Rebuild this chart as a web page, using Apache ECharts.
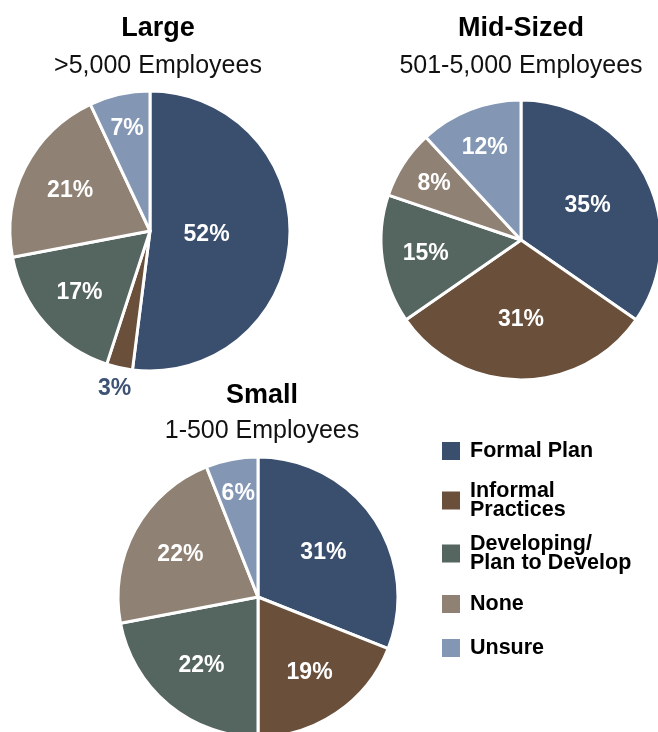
<!DOCTYPE html>
<html><head><meta charset="utf-8">
<script src="https://cdn.jsdelivr.net/npm/echarts@6/dist/echarts.min.js"></script>
<style>html,body{margin:0;padding:0;background:#fff}#c{width:658px;height:732px}</style>
</head><body><div id="c"></div>
<script>
var categories = ['Formal Plan', 'Informal Practices', 'Developing/Plan to Develop', 'None', 'Unsure'];
var legendLabels = ['Formal Plan', 'Informal\nPractices', 'Developing/\nPlan to Develop', 'None', 'Unsure'];
var groupTitles = ['Large', 'Mid-Sized', 'Small'];
var groupSubtitles = ['>5,000 Employees', '501-5,000 Employees', '1-500 Employees'];
var largeValues = [52, 3, 17, 21, 7];
var midValues = [35, 31, 15, 8, 12];
var smallValues = [31, 19, 22, 22, 6];

var colors = ['#3a4e6e', '#6a4f3a', '#55655f', '#8f8174', '#8397b4'];
var SANS = "'Liberation Sans', Arial, sans-serif";
var R = 140;
var pies = [
  {values: largeValues, center: [150, 231], title: [158, 13]},
  {values: midValues, center: [521, 240], title: [521, 13]},
  {values: smallValues, center: [258, 597], title: [262, 380]}
];

function labelPos(si, di) {
  var vals = pies[si].values;
  var total = vals.reduce(function (a, b) { return a + b; }, 0);
  var before = 0;
  for (var i = 0; i < di; i++) before += vals[i];
  var frac = (before + vals[di] / 2) / total;
  var ang = frac * 2 * Math.PI;
  var p = vals[di] / total * 100;
  var rl = p < 5 ? R + 22 : R * (0.42 + 0.38 * (1 - p / 50));
  var c = pies[si].center;
  return [c[0] + rl * Math.sin(ang), c[1] - rl * Math.cos(ang)];
}

var chart = echarts.init(document.getElementById('c'), null, {renderer: 'canvas'});
var titles = pies.map(function (p, i) {
  return {
    text: groupTitles[i], subtext: groupSubtitles[i],
    left: p.title[0], top: p.title[1], textAlign: 'center', itemGap: i < 2 ? 6 : 4, padding: 0,
    textStyle: {fontFamily: SANS, fontWeight: 'bold', fontSize: 27, color: '#000', lineHeight: 32},
    subtextStyle: {fontFamily: SANS, fontWeight: 'normal', fontSize: 25, color: '#111', lineHeight: 30}
  };
});
var series = pies.map(function (p, si) {
  var total = p.values.reduce(function (a, b) { return a + b; }, 0);
  return {
    type: 'pie', center: p.center, radius: R, startAngle: 90, clockwise: true,
    avoidLabelOverlap: false, silent: true, animation: false,
    itemStyle: {borderColor: '#fff', borderWidth: 3},
    label: {show: true, position: 'inside', formatter: '{c}%', color: '#fff', fontFamily: SANS, fontWeight: 'bold', fontSize: 23},
    labelLine: {show: false},
    labelLayout: function (params) {
      var pos = labelPos(si, params.dataIndex);
      return {x: pos[0], y: pos[1], align: 'center', verticalAlign: 'middle'};
    },
    data: p.values.map(function (v, i) {
      var d = {name: categories[i], value: v, itemStyle: {color: colors[i]}};
      if (v / total < 0.05) d.label = {color: '#3d5275'};
      return d;
    })
  };
});
var legendTops = [440, 480, 533, 593, 637];
var legends = categories.map(function (name, i) {
  return {
    data: [name], left: 440, top: legendTops[i], orient: 'vertical', padding: 0,
    icon: 'rect', itemWidth: 20, itemHeight: 20, selectedMode: false,
    formatter: function () { return legendLabels[i]; },
    textStyle: {fontFamily: SANS, fontWeight: 'bold', fontSize: 21.5, color: '#000', lineHeight: 19, padding: [0, 0, 0, 4]}
  };
});
chart.setOption({
  backgroundColor: '#fff',
  color: colors,
  title: titles,
  legend: legends,
  series: series
});
</script>
</body></html>
